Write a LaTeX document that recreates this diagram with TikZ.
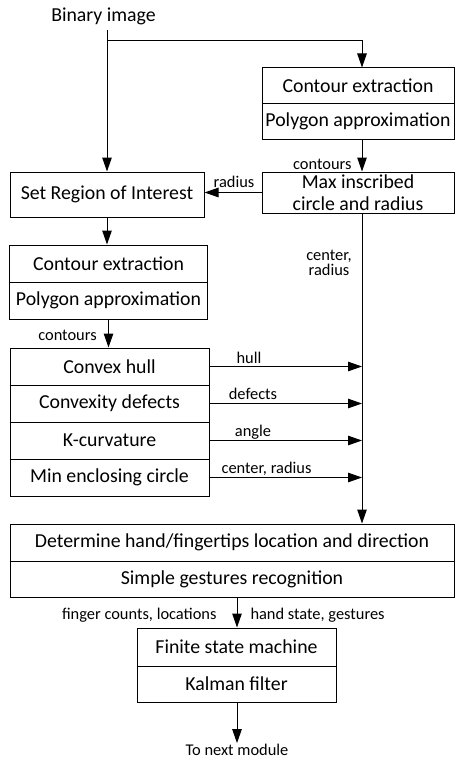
\documentclass[tikz,border=0pt]{standalone}
\usepackage{fontspec}
\setmainfont{Carlito}
\usetikzlibrary{arrows.meta}
\begin{document}
\begin{tikzpicture}[x=1pt,y=-1pt,line width=1pt,
  box/.style={draw,line width=1pt,inner sep=0pt,align=center,font=\fontsize{19.8}{22.5}\selectfont},
  lbl/.style={inner sep=0pt,font=\fontsize{16.4}{15.5}\selectfont},
  arr/.style={-{Triangle[length=14pt,width=9.5pt]}}]
\useasboundingbox (0,0) rectangle (455,760);
% top text
\node[inner sep=0pt,anchor=base,font=\fontsize{19.8}{22}\selectfont] (bin) at (103.5,22) {Binary image};
\coordinate (top) at (107,30);
\coordinate (rx) at (362,0);
\coordinate (mx) at (237,0);
% right column
\node[box,minimum width=192,minimum height=35] (ce1) at (358,85.5) {Contour extraction};
\node[box,minimum width=192,minimum height=36] (pa1) at (358,121) {Polygon approximation};
\node[box,minimum width=192,minimum height=41] (max) at (358,192.5) {Max inscribed\\circle and radius};
% left column
\node[box,minimum width=194,minimum height=45] (roi) at (107,194.5) {Set Region of Interest};
\node[box,minimum width=198,minimum height=37] (ce2) at (108.5,263.5) {Contour extraction};
\node[box,minimum width=198,minimum height=37] (pa2) at (108.5,300.5) {Polygon approximation};
\node[box,minimum width=199,minimum height=37] (hull) at (109.5,366.5) {Convex hull};
\node[box,minimum width=199,minimum height=37] (def) at (109.5,403.5) {Convexity defects};
\node[box,minimum width=199,minimum height=37] (kc) at (109.5,440.5) {K-curvature};
\node[box,minimum width=199,minimum height=37] (mec) at (109.5,477.5) {Min enclosing circle};
% bottom
\node[box,minimum width=444,minimum height=37] (det) at (232,542.5) {Determine hand/fingertips location and direction};
\node[box,minimum width=444,minimum height=36] (sim) at (232,579) {Simple gestures recognition};
\node[box,minimum width=199,minimum height=38] (fsm) at (236.5,647) {Finite state machine};
\node[box,minimum width=199,minimum height=36] (kal) at (236.5,684) {Kalman filter};
\node[lbl,anchor=base] (next) at (237,755) {To next module};
% connectors
\draw[arr] (top) -- (top |- roi.north);
\draw[arr] (top |- 0,41) -| (ce1.north -| rx);
\draw[arr] (pa1.south -| rx) -- (max.north -| rx);
\draw[arr] (max.west) -- (max.west -| roi.east);
\draw[arr] (roi.south) -- (roi.south |- ce2.north);
\draw[arr] (pa2.south) -- (pa2.south |- hull.north);
\draw[arr] (max.south -| rx) -- (det.north -| rx);
\draw[arr] (hull.east) -- (hull.east -| rx);
\draw[arr] (def.east) -- (def.east -| rx);
\draw[arr] (kc.east) -- (kc.east -| rx);
\draw[arr] (mec.east) -- (mec.east -| rx);
\draw[arr] (sim.south -| mx) -- (fsm.north -| mx);
\draw[arr] (kal.south -| mx) -- (next.north -| mx);
% labels
\node[lbl,anchor=base east] (l1) at (352,169) {contours};
\node[lbl,anchor=base] (l2) at (234,187) {radius};
\node[lbl,align=center] (l3) at (329,263) {center,\\radius};
\node[lbl,anchor=base] (l4) at (67.5,340) {contours};
\node[lbl,anchor=base] (l5) at (249,363) {hull};
\node[lbl,anchor=base] (l6) at (253,399) {defects};
\node[lbl,anchor=base] (l7) at (253,436) {angle};
\node[lbl,anchor=base] (l8) at (266.5,473) {center, radius};
\node[lbl,anchor=base east] (l9) at (217,619) {finger counts, locations};
\node[lbl,anchor=base west] (l10) at (250,619) {hand state, gestures};
\end{tikzpicture}
\end{document}
